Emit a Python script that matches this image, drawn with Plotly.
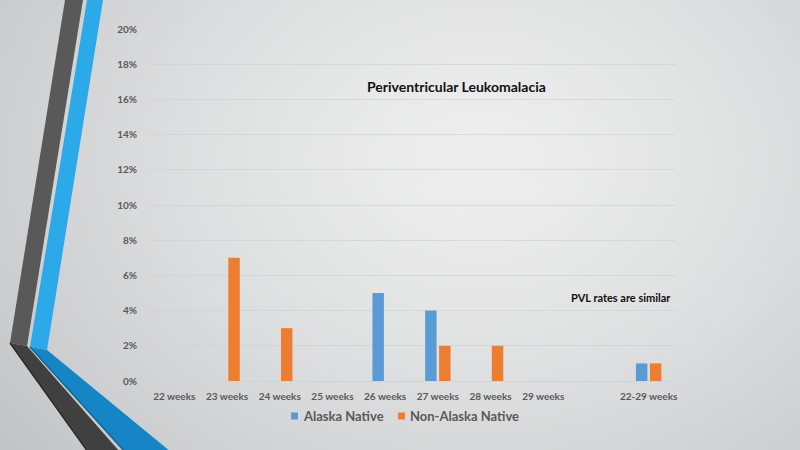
import base64, struct, zlib
import numpy as np
import plotly.graph_objects as go

# ---------------- data ----------------
categories = ["22 weeks", "23 weeks", "24 weeks", "25 weeks", "26 weeks",
              "27 weeks", "28 weeks", "29 weeks", " ", "22-29 weeks"]
alaska_native = [0, 0, 0, 0, 0.05, 0.04, 0, 0, None, 0.01]
non_alaska_native = [0, 0.07, 0.03, 0, 0, 0.02, 0.02, 0, None, 0.01]
series_names = ["Alaska Native", "Non-Alaska Native"]
y_ticks = [0, 0.02, 0.04, 0.06, 0.08, 0.10, 0.12, 0.14, 0.16, 0.18, 0.20]

W, H = 800, 450
L, R, T, B = 148, 675, 29, 381
PW, PH = R - L, B - T


def px(x):
    return (x - L) / PW


def py(y):
    return (B - y) / PH


# ---------------- background gradient image ----------------
def make_png(arr):
    h, w, _ = arr.shape
    raw = b"".join(b"\x00" + arr[i].tobytes() for i in range(h))

    def chunk(tag, data):
        c = struct.pack(">I", len(data)) + tag + data
        return c + struct.pack(">I", zlib.crc32(tag + data) & 0xFFFFFFFF)

    return (b"\x89PNG\r\n\x1a\n" + chunk(b"IHDR", struct.pack(">IIBBBBB", w, h, 8, 2, 0, 0, 0))
            + chunk(b"IDAT", zlib.compress(raw, 9)) + chunk(b"IEND", b""))


gw, gh = 200, 113
xs = np.linspace(0, W, gw)[None, :]
ys = np.linspace(0, H, gh)[:, None]
d = np.sqrt((xs - 480) ** 2 + ((ys - 160) * 1.3) ** 2) / 610.0
v = 238 - 44 * np.clip(d, 0, 1.3) ** 1.4
img = np.stack([v, v + 1.5 * d, v + 3 * d], axis=-1)
img = np.clip(img, 0, 255).astype(np.uint8)
bg_src = "data:image/png;base64," + base64.b64encode(make_png(img)).decode()

# ---------------- figure ----------------
font_fam = "Lato, Calibri, sans-serif"
fig = go.Figure()
fig.add_trace(go.Bar(x=categories, y=alaska_native, name=series_names[0],
                     marker=dict(color="#5B9BD5", line=dict(width=0)), showlegend=False))
fig.add_trace(go.Bar(x=categories, y=non_alaska_native, name=series_names[1],
                     marker=dict(color="#ED7D31", line=dict(width=0)), showlegend=False))


def poly(points, color):
    path = "M " + " L ".join(f"{px(a):.5f},{py(b):.5f}" for a, b in points) + " Z"
    return dict(type="path", xref="paper", yref="paper", path=path,
                fillcolor=color, line=dict(width=0), layer="below")


def seg(p1, p2, color, w):
    return dict(type="line", xref="paper", yref="paper", x0=px(p1[0]), y0=py(p1[1]),
                x1=px(p2[0]), y1=py(p2[1]), line=dict(color=color, width=w), layer="below")


shapes = [
    poly([(65, 0), (83, 0), (27, 346), (10, 343)], "#595959"),
    poly([(10, 343), (27, 346), (120, 452), (88, 452)], "#404040"),
    seg((10, 343), (88, 452), "#2b2b2b", 1.5),
    poly([(87, 0), (103, 0), (47, 350), (30, 347)], "#2BA9E9"),
    poly([(30, 347), (47, 350), (171, 452), (125, 452)], "#1585C5"),
    seg((30, 347), (125, 452), "#0C679E", 1.5),
    # legend squares
    dict(type="rect", xref="paper", yref="paper", x0=px(291), x1=px(298),
         y0=py(419.5), y1=py(412.5), fillcolor="#5B9BD5", line=dict(width=0)),
    dict(type="rect", xref="paper", yref="paper", x0=px(398), x1=px(405),
         y0=py(419.5), y1=py(412.5), fillcolor="#ED7D31", line=dict(width=0)),
]

annotations = [
    dict(text="Periventricular Leukomalacia", xref="paper", yref="paper",
         x=px(456), y=py(86), xanchor="center", yanchor="middle", showarrow=False,
         font=dict(family=font_fam, size=14, color="#111111", weight="bold")),
    dict(text="PVL rates are similar", xref="paper", yref="paper",
         x=px(621), y=py(297), xanchor="center", yanchor="middle", showarrow=False,
         font=dict(family=font_fam, size=11, color="#111111", weight="bold")),
    dict(text=series_names[0], xref="paper", yref="paper",
         x=px(301), y=py(416), xanchor="left", yanchor="middle", showarrow=False,
         font=dict(family=font_fam, size=13, color="#595959", weight="bold")),
    dict(text=series_names[1], xref="paper", yref="paper",
         x=px(408), y=py(416), xanchor="left", yanchor="middle", showarrow=False,
         font=dict(family=font_fam, size=13, color="#595959", weight="bold")),
]

fig.update_layout(
    width=W, height=H,
    margin=dict(l=L, r=W - R, t=T, b=H - B, pad=0),
    paper_bgcolor="#d4d6d7",
    plot_bgcolor="rgba(0,0,0,0)",
    barmode="group", bargap=0.47, bargroupgap=0.18,
    images=[dict(source=bg_src, xref="paper", yref="paper", x=px(0), y=py(0),
                 sizex=W / PW, sizey=H / PH, xanchor="left", yanchor="top",
                 sizing="stretch", layer="below")],
    shapes=shapes,
    annotations=annotations,
    showlegend=False,
    xaxis=dict(type="category", categoryorder="array", categoryarray=categories,
               showgrid=False, showline=True, linecolor="#d2d3d4", linewidth=1,
               ticks="", tickfont=dict(family=font_fam, size=10, color="#595959", weight="bold"),
               ticklabelstandoff=6, fixedrange=True),
    yaxis=dict(range=[0, 0.2], tickvals=y_ticks, tickformat=".0%",
               showgrid=True, gridcolor="rgba(205,207,208,0.6)", gridwidth=1,
               zeroline=False, showline=False, ticks="",
               tickfont=dict(family=font_fam, size=10, color="#595959", weight="bold"),
               ticklabelstandoff=10, fixedrange=True),
)

fig.write_html("out.html")
